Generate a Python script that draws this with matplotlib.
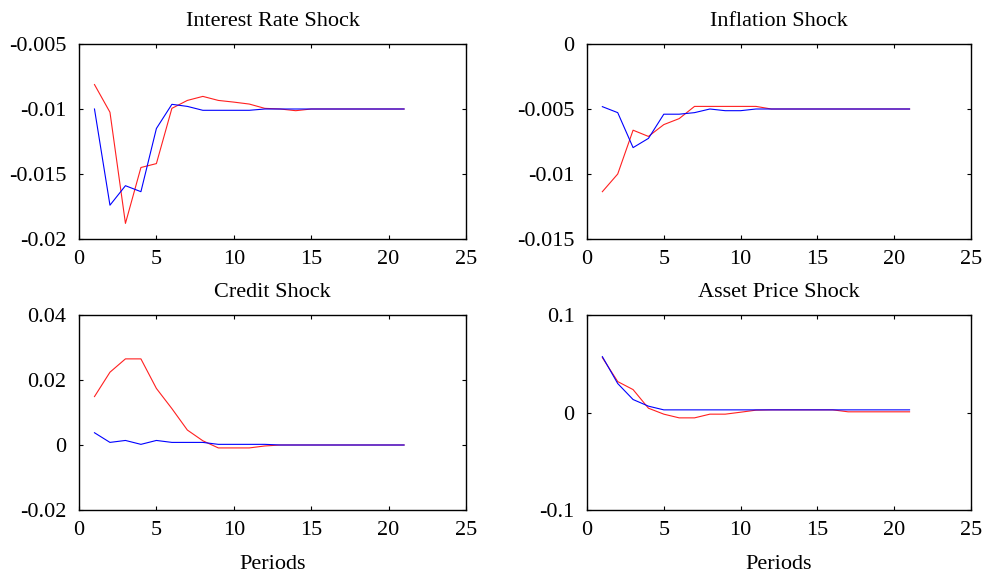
import matplotlib
matplotlib.use("Agg")
import matplotlib.pyplot as plt
import numpy as np

periods = np.arange(1, 22)

# Interest rate shock responses
ir_blue = [-0.0100, -0.0174, -0.0159, -0.01636, -0.0115, -0.00964, -0.0098,
           -0.0101, -0.0101, -0.0101, -0.0101, -0.0100] + [-0.0100] * 9
ir_red = [-0.00812, -0.01025, -0.0188, -0.0145, -0.0142, -0.00995, -0.00934,
          -0.00903, -0.00934, -0.00947, -0.00962, -0.00995, -0.0100, -0.01013,
          -0.0100] + [-0.0100] * 6

# Inflation shock responses
inf_blue = [-0.00482, -0.00528, -0.00797, -0.00726, -0.0054, -0.0054,
            -0.00528, -0.0050, -0.00513, -0.00513, -0.0050] + [-0.0050] * 10
inf_red = [-0.01136, -0.0100, -0.00663, -0.00711, -0.0062, -0.00574,
           -0.0048, -0.0048, -0.0048, -0.0048, -0.0048, -0.0050] + [-0.0050] * 9

# Credit shock responses
cr_blue = [0.00377, 0.0008, 0.0014, 0.0002, 0.0014, 0.0008, 0.0008, 0.0008,
           0.0002, 0.0002, 0.0002, 0.0002] + [0.0] * 9
cr_red = [0.0149, 0.0224, 0.0265, 0.0265, 0.0174, 0.0112, 0.0046, 0.0013,
          -0.0009, -0.0009, -0.0009, -0.0003] + [0.0] * 9

# Asset price shock responses
ap_blue = [0.0573, 0.0297, 0.0133, 0.0065] + [0.0027] * 17
ap_red = [0.0563, 0.0317, 0.0235, 0.0044, -0.0017, -0.0055, -0.0055, -0.0017,
          -0.0017, 0.0003, 0.0024, 0.0027, 0.0027, 0.0027, 0.0027, 0.0027] + [0.0007] * 5

titles = ["Interest Rate Shock", "Inflation Shock", "Credit Shock", "Asset Price Shock"]
series = [(ir_blue, ir_red), (inf_blue, inf_red), (cr_blue, cr_red), (ap_blue, ap_red)]
ylims = [(-0.02, -0.005), (-0.015, 0.0), (-0.02, 0.04), (-0.1, 0.1)]
yticks = [[-0.02, -0.015, -0.01, -0.005],
          [-0.015, -0.01, -0.005, 0],
          [-0.02, 0, 0.02, 0.04],
          [-0.1, 0, 0.1]]
yticklabels = [["-0.02", "-0.015", "-0.01", "-0.005"],
               ["-0.015", "-0.01", "-0.005", "0"],
               ["-0.02", "0", "0.02", "0.04"],
               ["-0.1", "0", "0.1"]]

plt.rcParams["font.family"] = ["Liberation Serif", "DejaVu Serif"]
FS = 16

W, H = 985, 575
fig = plt.figure(figsize=(W / 100, H / 100), dpi=100)
# axes boxes in pixels: left, top, right, bottom
boxes = [(79, 44, 466, 239), (587, 44, 971, 239),
         (79, 315, 466, 510), (587, 315, 971, 510)]

for i, (l, t, r, b) in enumerate(boxes):
    ax = fig.add_axes([l / W, 1 - b / H, (r - l) / W, (b - t) / H])
    blue, red = series[i]
    ax.plot(periods, red, color="#ff2020", lw=0.8)
    ax.plot(periods, blue, color="#0000ff", lw=0.8)
    ax.set_xlim(0, 25)
    ax.set_ylim(*ylims[i])
    ax.set_xticks([0, 5, 10, 15, 20, 25])
    ax.set_yticks(yticks[i])
    ax.set_yticklabels(yticklabels[i])
    ax.tick_params(direction="in", length=3, width=0.8, top=True, right=True,
                   labelsize=FS)
    ax.tick_params(axis="y", pad=9)
    ax.tick_params(axis="x", pad=8)
    for sp in ax.spines.values():
        sp.set_linewidth(1.0)
    ax.set_title(titles[i], fontsize=FS, pad=13)
    if i >= 2:
        ax.set_xlabel("Periods", fontsize=FS, labelpad=11)

fig.savefig("out.png", dpi=100)
